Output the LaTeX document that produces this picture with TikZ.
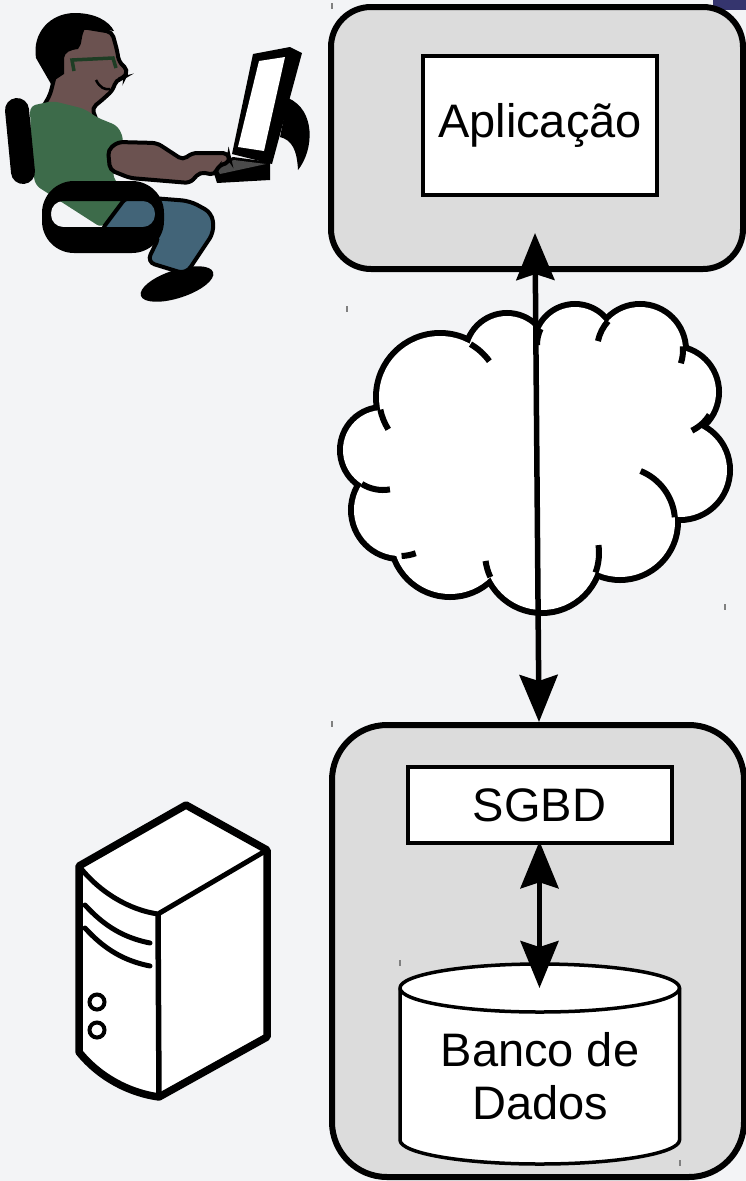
\documentclass[tikz,border=0pt]{standalone}
\usepackage{fontspec}
\setmainfont{Liberation Sans}
\usetikzlibrary{arrows.meta}
\usetikzlibrary{calc}

\definecolor{bgcol}{HTML}{F3F4F6}
\definecolor{boxgray}{HTML}{DCDCDC}
\definecolor{skin}{HTML}{6B5250}
\definecolor{shirt}{HTML}{3D6B4A}
\definecolor{jeans}{HTML}{426478}
\definecolor{keygray}{HTML}{4A4A4A}
\definecolor{lenscol}{HTML}{1E3D24}
\definecolor{navy}{HTML}{35356E}

\tikzset{
  srvbox/.style={draw, line width=6pt, fill=boxgray},
  appbox/.style={draw, line width=4pt, fill=white, font=\fontsize{47}{53}\selectfont},
  conn/.style={line width=5.5pt, {Stealth[length=47pt,width=38pt,inset=6pt]}-{Stealth[length=47pt,width=38pt,inset=6pt]}}
}

\begin{document}
\begin{tikzpicture}[x=1pt,y=-1pt]
  \useasboundingbox (0,0) rectangle (746,1181);
  \fill[bgcol] (0,0) rectangle (746,1181);
  \fill[navy] (713,0) rectangle (746,10);

  % the two machines
  \node[srvbox, rounded corners=40pt, minimum width=412pt, minimum height=262pt] (appsrv) at (537,138) {};
  \node[appbox, minimum width=234pt, minimum height=139pt] (app) at (540,125.5) {Aplicação};
  \node[srvbox, rounded corners=55pt, minimum width=412pt, minimum height=452pt] (dbsrv) at (538,951) {};
  \node[appbox, minimum width=264pt, minimum height=76.5pt] (sgbd) at (539.5,805) {SGBD};

  % database drum
  \filldraw[fill=white, line width=3.5pt] (400,988) -- (400,1140)
    arc[start angle=180, end angle=0, x radius=139.75, y radius=24] -- (679.5,988)
    arc[start angle=0, end angle=-180, x radius=139.75, y radius=24] -- cycle;
  \draw[line width=3.5pt] (400,988) arc[start angle=180, end angle=0, x radius=139.75, y radius=24];
  \coordinate (dbtop) at (539.5,988);
  \node[font=\fontsize{47}{53}\selectfont, align=center] (db) at (540,1076) {Banco de\\Dados};
  \draw[conn, line width=5pt] ([yshift=4pt]sgbd.south) -- (dbtop);

  % network cloud: lobes, then the inside wiped white
  \def\lobes{440/397/61, 507/355/39, 575/345/38, 640/350/43, 673/392/43, 680/470/47,
             620/522/55, 542/553/57, 450/537/57, 400/510/46, 383/450/40}
  \foreach \cx/\cy/\r in \lobes
    {\draw[line width=12pt] (\cx,\cy) circle[radius=\r];}
  \foreach \cx/\cy/\r in \lobes
    {\fill[white] (\cx,\cy) circle[radius=\r];}
  \fill[white] (545,460) ellipse[x radius=140, y radius=105];
  % little inner strokes where the lobes meet
  \foreach \cx/\cy/\r/\a/\b in {440/397/61/-60/-36, 575/345/38/205/180, 640/350/43/222/192,
      640/350/43/-5/18, 673/392/43/32/64, 620/522/55/-68/-5, 542/553/57/-8/20,
      542/553/57/155/172, 400/510/46/88/70, 383/450/40/122/80, 440/397/61/168/148}
    {\draw[line width=6pt] ([shift={(\a:\r)}]\cx,\cy) arc[start angle=\a, end angle=\b, radius=\r];}

  \draw[conn] ([xshift=-2pt,yshift=39pt]appsrv.south) -- ([xshift=1pt]dbsrv.north);

  % server tower
  \filldraw[fill=white, line width=7.5pt, line join=round] (79,866) -- (186,805) -- (267,850) -- (267,1037)
    -- (159,1097) .. controls (130,1093) and (100,1078) .. (79,1052) -- cycle;
  \draw[line width=5pt] (79,866) .. controls (100,893) and (130,910) .. (158,914) -- (267,850);
  \draw[line width=5.5pt] (158,914) -- (159,1097);
  \foreach \dy in {0,23}
    {\draw[line width=5pt, line cap=round] (85,905+\dy) .. controls (105,927+\dy) and (125,938+\dy) .. (150,943+\dy);}
  \foreach \cy in {1002,1030}
    {\draw[line width=4pt] (97,\cy) circle[radius=7.5];}

  % user at his desk
  \fill (177,284) [rotate around={18:(177,284)}] ellipse[x radius=38, y radius=14];
  \filldraw[fill=skin, draw=black, line width=4pt, rounded corners=5pt] (82,27) -- (112,32) -- (117,50)
    -- (119,62) -- (128,70) -- (124,78) -- (116,80) -- (113,90) -- (101,101) -- (92,108) -- (98,124)
    -- (40,112) -- (50,95) -- (55,75) -- (62,45) -- cycle;
  \fill (36,58) .. controls (32,33) and (50,13) .. (75,13) .. controls (95,13) and (109,21) .. (114,31)
    -- (86,27) .. controls (80,36) and (83,44) .. (78,49) .. controls (70,50) and (65,52) .. (64,58)
    -- (64,74) .. controls (58,78) and (54,80) .. (51,84) -- cycle;
  \draw[lenscol, line width=3.5pt] (74,71) -- (72,60) -- (113,58) -- (116,68);
  \draw[line width=2.5pt] (96,80) .. controls (100,88) and (105,90) .. (110,89);
  \fill[shirt, rounded corners=6pt] (30,106) -- (53,101) -- (85,109) -- (96,117) -- (118,126) -- (124,140)
    -- (112,175) -- (127,197) -- (102,228) -- (35,185) -- (31,150) -- cycle;
  \draw[line width=24pt, line cap=round] (17,110) -- (23,172);
  \filldraw[fill=jeans, draw=black, line width=4pt, rounded corners=8pt] (100,232) -- (127,196) -- (190,201)
    -- (212,213) -- (214,232) -- (186,274) -- (147,262) -- (160,235) -- (125,240) -- cycle;
  \fill[even odd rule] [rounded corners=32pt] (42,181) rectangle (164,253)
    [rounded corners=12pt] (51,201) rectangle (155,227);
  \fill (212,167) -- (233,157) -- (270,162) -- (270,180) -- (217,183) -- cycle;
  \fill[keygray] (216,167) -- (234,160) -- (266,164) -- (220,174) -- cycle;
  \filldraw[fill=skin, draw=black, line width=4pt, rounded corners=5pt] (108,150) -- (118,142) -- (157,143)
    -- (183,160) -- (192,153) -- (228,153) -- (230,162) -- (218,166) -- (215,175) -- (200,172)
    -- (190,183) -- (130,178) -- (110,170) -- cycle;
  \fill (232,154) -- (253,54) -- (290,47) -- (302,53) -- (272,164) -- cycle;
  \fill[white] (238,147) -- (259,61) -- (285,57) -- (264,151) -- cycle;
  \fill (288,98) .. controls (316,110) and (314,150) .. (298,170) .. controls (297,150) and (292,140) .. (280,137) -- cycle;

  % stray marks
  \foreach \x/\y in {332/6, 347/309, 725/607, 332/724, 400/963, 680/1163}
    {\draw[line width=1.5pt, gray] (\x,\y-3) -- (\x,\y+3);}
\end{tikzpicture}
\end{document}
